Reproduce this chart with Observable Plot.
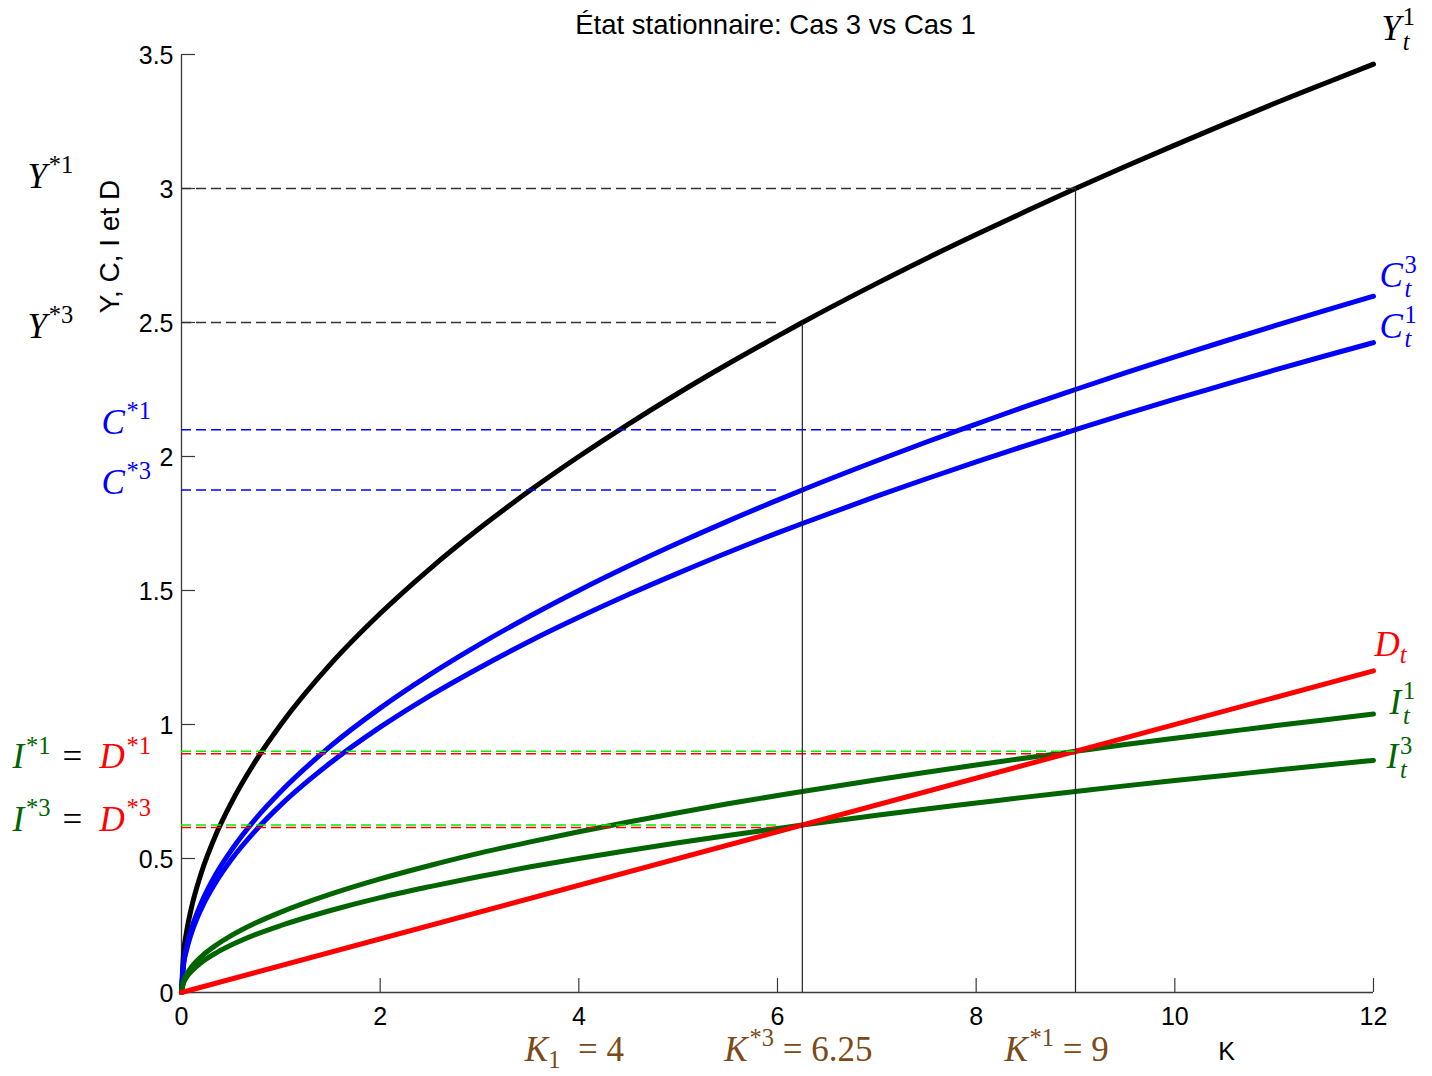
<!DOCTYPE html>
<html><head><meta charset="utf-8">
<script src="https://cdn.jsdelivr.net/npm/d3@7"></script>
<script src="https://cdn.jsdelivr.net/npm/@observablehq/plot@0.6"></script>
<style>body{margin:0;background:#fff}</style>
</head><body><div id="chart"></div>
<script>
// ---- data ----
const title = "État stationnaire: Cas 3 vs Cas 1";
const yLabel = "Y, C, I et D";
const xLabel = "K";
const K  = [0, 0.02, 0.05, 0.1, 0.2, 0.35, 0.5, 0.75, 1, 1.5, 2, 2.5, 3, 3.5, 4, 4.5, 5, 5.5, 6, 6.25, 7, 7.5, 8, 8.5, 9, 9.5, 10, 10.5, 11, 11.5, 12];
const Y1 = [0, 0.141, 0.224, 0.316, 0.447, 0.592, 0.707, 0.866, 1, 1.225, 1.414, 1.581, 1.732, 1.871, 2, 2.121, 2.236, 2.345, 2.449, 2.5, 2.646, 2.739, 2.828, 2.915, 3, 3.082, 3.162, 3.240, 3.317, 3.391, 3.464];
const C3 = [0, 0.106, 0.168, 0.237, 0.335, 0.444, 0.530, 0.650, 0.75, 0.919, 1.061, 1.186, 1.299, 1.403, 1.5, 1.591, 1.677, 1.759, 1.837, 1.875, 1.984, 2.054, 2.121, 2.187, 2.25, 2.312, 2.372, 2.430, 2.487, 2.543, 2.598];
const C1 = [0, 0.099, 0.157, 0.221, 0.313, 0.414, 0.495, 0.606, 0.7, 0.857, 0.990, 1.107, 1.212, 1.310, 1.4, 1.485, 1.565, 1.642, 1.715, 1.75, 1.852, 1.917, 1.980, 2.041, 2.1, 2.158, 2.214, 2.268, 2.322, 2.374, 2.425];
const I1 = [0, 0.042, 0.067, 0.095, 0.134, 0.177, 0.212, 0.260, 0.3, 0.367, 0.424, 0.474, 0.520, 0.561, 0.6, 0.636, 0.671, 0.704, 0.735, 0.75, 0.794, 0.822, 0.849, 0.875, 0.9, 0.925, 0.949, 0.972, 0.995, 1.017, 1.039];
const I3 = [0, 0.035, 0.056, 0.079, 0.112, 0.148, 0.177, 0.217, 0.25, 0.306, 0.354, 0.395, 0.433, 0.468, 0.5, 0.530, 0.559, 0.586, 0.612, 0.625, 0.661, 0.685, 0.707, 0.729, 0.75, 0.771, 0.791, 0.810, 0.829, 0.848, 0.866];
const KD = [0, 12];
const D  = [0, 1.2];
const xTicks = [0, 2, 4, 6, 8, 10, 12];
const yTicks = [0, 0.5, 1, 1.5, 2, 2.5, 3, 3.5];
const K1 = 4, Kstar3 = 6.25, Kstar1 = 9;
const Ystar1 = 3, Ystar3 = 2.5, Cstar1 = 2.1, Cstar3 = 1.875, Istar1 = 0.9, Istar3 = 0.625;
const guideEnd1 = 9, guideEnd3 = 6;

// ---- layout / style ----
const W = 1432, H = 1076, ML = 181, MR = 59, MT = 54, MB = 84;
const xTickLen = 14 * 12 / (W - ML - MR);
const yTickLen = 14 * 3.5 / (H - MT - MB);
const AX = "#3a3a3a";
const BLUE = "#0000ff", RED = "#ff0000", GREEN = "#006400", LIME = "#00ee00", BROWN = "#7b4a17";
const SANS = "'Liberation Sans', Arial, Helvetica, sans-serif";
const math = {fontFamily: "'Liberation Serif','Times New Roman',serif", fontSize: 35, lineAnchor: "bottom", textAnchor: "start", text: d => d};
const rows = (xs, ys) => xs.map((x, i) => ({x, y: ys[i]}));
const curve = (xs, ys, stroke) => Plot.line(rows(xs, ys), {x: "x", y: "y", stroke, strokeWidth: 5, curve: "monotone-x"});
const dash = {strokeWidth: 1.4, strokeDasharray: "10,5"};
const last = a => a[a.length - 1];

const chart = Plot.plot({
  width: W, height: H,
  marginLeft: ML, marginRight: MR, marginTop: MT, marginBottom: MB,
  x: {domain: [0, 12]},
  y: {domain: [0, 3.5]},
  style: {fontFamily: SANS, fontSize: "25px", color: "#000", background: "#fff", overflow: "visible"},
  marks: [
    // axes
    Plot.ruleY([0], {x1: 0, x2: 12, stroke: AX, strokeWidth: 1.3}),
    Plot.ruleX([0], {y1: 0, y2: 3.5, stroke: AX, strokeWidth: 1.3}),
    Plot.ruleX(xTicks, {x: d => d, y1: 0, y2: yTickLen, stroke: AX, strokeWidth: 1.2}),
    Plot.ruleY(yTicks, {y: d => d, x1: 0, x2: xTickLen, stroke: AX, strokeWidth: 1.2}),
    Plot.axisX({ticks: xTicks, tickSize: 0, tickPadding: 15, label: null, tickFormat: d => String(d), fontSize: 25}),
    Plot.axisY({ticks: yTicks, tickSize: 0, tickPadding: 8, label: null, tickFormat: d => String(d), fontSize: 25, dy: 1}),
    // curves
    curve(K, Y1, "#000"),
    curve(K, C3, BLUE),
    curve(K, C1, BLUE),
    curve(K, I1, GREEN),
    curve(K, I3, GREEN),
    curve(KD, D, RED),
    // dashed guides
    Plot.ruleY([Ystar1], {y: d => d, x1: 0, x2: guideEnd1, stroke: "#333", ...dash}),
    Plot.ruleY([Ystar3], {y: d => d, x1: 0, x2: guideEnd3, stroke: "#333", ...dash}),
    Plot.ruleY([Cstar1], {y: d => d, x1: 0, x2: guideEnd1, stroke: BLUE, ...dash}),
    Plot.ruleY([Cstar3], {y: d => d, x1: 0, x2: guideEnd3, stroke: BLUE, ...dash}),
    Plot.ruleY([Istar1], {y: d => d, x1: 0, x2: guideEnd1, stroke: LIME, ...dash}),
    Plot.ruleY([Istar1], {y: d => d, x1: 0, x2: guideEnd1, stroke: RED, dy: 2.5, ...dash}),
    Plot.ruleY([Istar3], {y: d => d, x1: 0, x2: guideEnd3, stroke: LIME, ...dash}),
    Plot.ruleY([Istar3], {y: d => d, x1: 0, x2: guideEnd3, stroke: RED, dy: 2.5, ...dash}),
    // vertical steady-state lines
    Plot.ruleX([Kstar3], {x: d => d, y1: 0, y2: Ystar3, stroke: "#222", strokeWidth: 1.2}),
    Plot.ruleX([Kstar1], {x: d => d, y1: 0, y2: Ystar1, stroke: "#222", strokeWidth: 1.2}),
    // right-end series labels
    Plot.text(["$Y_t^1"], {...math, x: last(K), y: last(Y1), dx: 8, dy: -24, fill: "#000"}),
    Plot.text(["$C_t^3"], {...math, x: last(K), y: last(C3), dx: 6, dy: -9, fill: BLUE}),
    Plot.text(["$C_t^1"], {...math, x: last(K), y: last(C1), dx: 6, dy: -5, fill: BLUE}),
    Plot.text(["$D_t"], {...math, x: last(KD), y: last(D), dx: 1, dy: -15, fill: RED}),
    Plot.text(["$I_t^1"], {...math, x: last(K), y: last(I1), dx: 16, dy: 0, fill: GREEN}),
    Plot.text(["$I_t^3"], {...math, x: last(K), y: last(I3), dx: 13, dy: 8, fill: GREEN}),
    // left steady-state labels
    Plot.text(["$Y^{*1}"], {...math, x: 0, y: Ystar1, dx: -154, dy: -1, fill: "#000"}),
    Plot.text(["$Y^{*3}"], {...math, x: 0, y: Ystar3, dx: -154, dy: 15, fill: "#000"}),
    Plot.text(["$C^{*1}"], {...math, x: 0, y: Cstar1, dx: -80, dy: 4, fill: BLUE}),
    Plot.text(["$C^{*3}"], {...math, x: 0, y: Cstar3, dx: -80, dy: 3.5, fill: BLUE}),
    Plot.text(["$I^{*1}"], {...math, x: 0, y: Istar1, dx: -169, dy: 17, fill: GREEN}),
    Plot.text(["$="], {...math, x: 0, y: Istar1, dx: -119, dy: 17, fill: "#000"}),
    Plot.text(["$D^{*1}"], {...math, x: 0, y: Istar1, dx: -82, dy: 17, fill: RED}),
    Plot.text(["$I^{*3}"], {...math, x: 0, y: Istar3, dx: -169, dy: 5.5, fill: GREEN}),
    Plot.text(["$="], {...math, x: 0, y: Istar3, dx: -119, dy: 5.5, fill: "#000"}),
    Plot.text(["$D^{*3}"], {...math, x: 0, y: Istar3, dx: -82, dy: 5.5, fill: RED}),
    // bottom K labels
    Plot.text(["$K_1  = 4"], {...math, x: K1, y: 0, dx: -54, dy: 68, fill: BROWN}),
    Plot.text(["$K^{*3} = 6.25"], {...math, x: Kstar3, y: 0, dx: -78, dy: 68, fill: BROWN}),
    Plot.text(["$K^{*1} = 9"], {...math, x: Kstar1, y: 0, dx: -71, dy: 68, fill: BROWN}),
    // titles
    Plot.text([xLabel], {text: d => d, frameAnchor: "bottom-right", dx: -147, dy: 67, lineAnchor: "bottom", textAnchor: "middle", fontSize: 25, fill: "#000"}),
    Plot.text([yLabel], {text: d => d, frameAnchor: "top-left", rotate: -90, dx: -63, dy: 192, lineAnchor: "bottom", textAnchor: "middle", fontSize: 28, fill: "#000"}),
    Plot.text([title], {text: d => d, frameAnchor: "top", dx: -2, dy: -21, lineAnchor: "bottom", textAnchor: "middle", fontSize: 27.5, fill: "#000"})
  ]
});
document.getElementById("chart").append(chart);

// ---- tiny TeX-like typesetting for labels starting with "$" ----
function parseMath(s) {
  const out = []; let i = 0, buf = "";
  const arg = () => { if (s[i] === "{") { const j = s.indexOf("}", i); const a = s.slice(i + 1, j); i = j + 1; return a; } return s[i++]; };
  while (i < s.length) {
    const c = s[i];
    if (c === "^" || c === "_") {
      if (buf) { out.push({type: "text", v: buf}); buf = ""; }
      let sup = null, sub = null;
      while (s[i] === "^" || s[i] === "_") { const k = s[i]; i++; const a = arg(); if (k === "^") sup = a; else sub = a; }
      out.push({type: "script", sup, sub});
    } else { buf += c; i++; }
  }
  if (buf) out.push({type: "text", v: buf});
  return out;
}
const NS = "http://www.w3.org/2000/svg";
for (const t of chart.querySelectorAll("text")) {
  const s = t.textContent;
  if (!s.startsWith("$")) continue;
  const F = parseFloat(getComputedStyle(t).fontSize);
  while (t.firstChild) t.removeChild(t.firstChild);
  t.style.whiteSpace = "pre";
  let cur = 0, pendingDx = 0;
  const put = (str, size, off, gap) => {
    const parts = str.match(/[A-Za-z]+|[^A-Za-z]+/g) || [];
    let w = 0;
    if (gap) pendingDx += gap;
    for (const p of parts) {
      const ts = document.createElementNS(NS, "tspan");
      ts.textContent = p;
      if (/[A-Za-z]/.test(p)) ts.setAttribute("font-style", "italic");
      ts.setAttribute("font-size", size);
      if (off !== cur) { ts.setAttribute("dy", off - cur); cur = off; }
      if (pendingDx) { ts.setAttribute("dx", pendingDx); pendingDx = 0; }
      t.appendChild(ts);
      w += ts.getComputedTextLength();
    }
    return w;
  };
  for (const tok of parseMath(s.slice(1))) {
    if (tok.type === "text") put(tok.v, F, 0);
    else {
      const sz = 0.7 * F;
      let wSup = 0, wSub = 0;
      if (tok.sup != null) wSup = put(tok.sup, sz, -0.42 * F, 0.05 * F);
      if (tok.sub != null) {
        if (tok.sup != null) pendingDx = -wSup;
        wSub = put(tok.sub, sz, tok.sup != null ? 0.28 * F : 0.2 * F);
      }
      if (tok.sup != null && tok.sub != null) pendingDx = Math.max(0, wSup - wSub);
    }
  }
}
</script>
</body></html>
